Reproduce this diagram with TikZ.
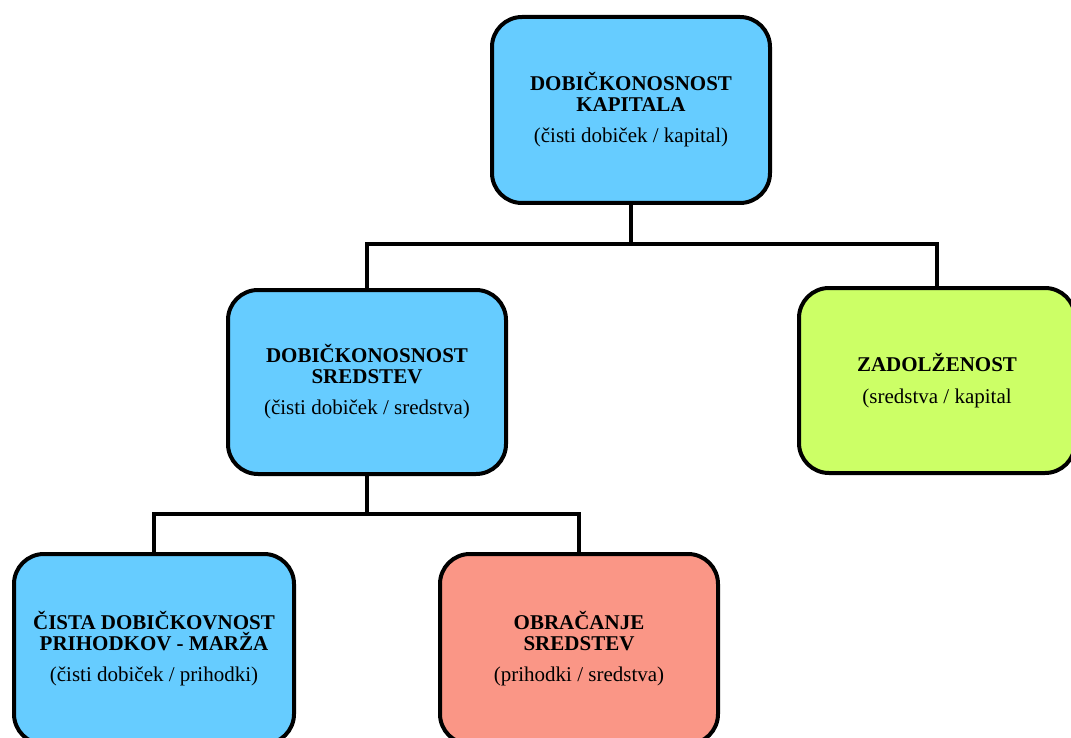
\documentclass[tikz,border=0pt]{standalone}
\usepackage{fontspec}
\setmainfont{Liberation Serif}
\definecolor{boxblue}{RGB}{102,204,255}
\definecolor{boxgreen}{RGB}{204,255,102}
\definecolor{boxsalmon}{RGB}{250,150,134}
\tikzset{
  box/.style={draw=black, line width=4pt, rounded corners=30pt, align=center,
    font=\fontsize{21}{21}\selectfont, inner sep=0pt, minimum width=278pt, minimum height=186pt},
  conn/.style={draw=black, line width=4pt, line join=miter}
}
\begin{document}
\begin{tikzpicture}[x=1pt,y=-1pt]
\useasboundingbox (0,0) rectangle (1071,738);
\node[box, fill=boxblue] (top) at (631,110) {\textbf{DOBIČKONOSNOST}\\\textbf{KAPITALA}\\[10pt](čisti dobiček / kapital)};
\node[box, fill=boxblue, minimum height=184pt] (mid) at (367,382) {\textbf{DOBIČKONOSNOST}\\\textbf{SREDSTEV}\\[10pt](čisti dobiček / sredstva)};
\node[box, fill=boxgreen, minimum width=276pt, minimum height=185pt] (zad) at (937,380.5) {\textbf{ZADOLŽENOST}\\[11pt](sredstva / kapital};
\node[box, fill=boxblue, minimum width=280pt, minimum height=190pt] (cis) at (154,649) {\textbf{ČISTA DOBIČKOVNOST}\\\textbf{PRIHODKOV - MARŽA}\\[10pt](čisti dobiček / prihodki)};
\node[box, fill=boxsalmon, minimum height=190pt] (obr) at (579,649) {\textbf{OBRAČANJE}\\\textbf{SREDSTEV}\\[10pt](prihodki / sredstva)};
\coordinate (j1) at (631,244);
\coordinate (j2) at (367,514);
\draw[conn] (top.south) -- (j1);
\draw[conn] (mid.north) |- (j1) -| (zad.north);
\draw[conn] (mid.south) -- (j2);
\draw[conn] (cis.north) |- (j2) -| (obr.north);
\end{tikzpicture}
\end{document}
